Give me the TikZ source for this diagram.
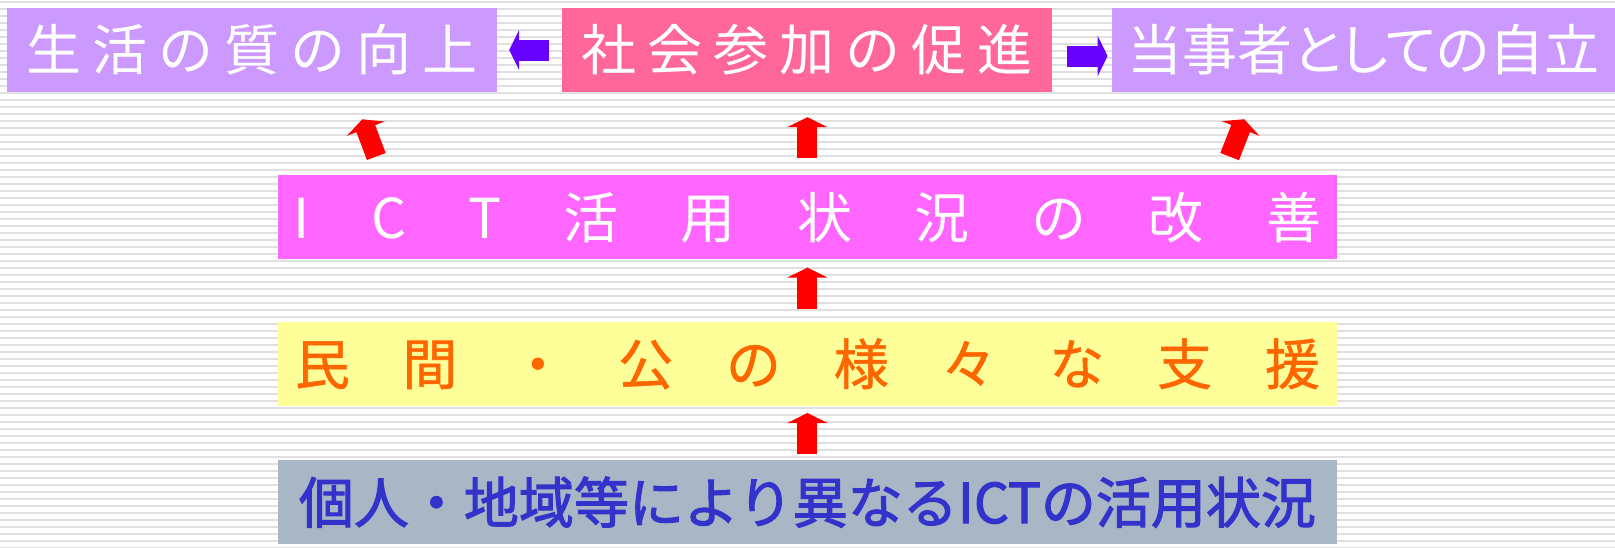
\documentclass[tikz,border=0pt]{standalone}
\usepackage{fontspec}
\newfontfamily\jpfont{Noto Sans CJK JP}
\usetikzlibrary{positioning, arrows.meta}

\definecolor{lavender}{HTML}{CC99FF}
\definecolor{rosepink}{HTML}{FF6699}
\definecolor{magentabox}{HTML}{FF66FF}
\definecolor{paleyellow}{HTML}{FFFF99}
\definecolor{textorange}{HTML}{FF6600}
\definecolor{slatebox}{HTML}{A8B6C6}
\definecolor{textblue}{HTML}{3333CC}
\definecolor{linkpurple}{HTML}{6600FF}
\definecolor{stripegray}{HTML}{E0E0E0}

\begin{document}
\begin{tikzpicture}[x=1pt, y=-1pt,
        goal/.style={rectangle, minimum height=84pt, inner sep=0pt, text=white, font=\jpfont\addfontfeature{LetterSpace=20}\fontsize{55}{60}\selectfont},
        band/.style={rectangle, minimum width=1059pt, minimum height=84pt, inner sep=0pt},
        linkarrow/.style={draw=linkpurple, line width=21pt, -{Triangle[length=10pt, width=40pt]}},
        liftarrow/.style={draw=red, line width=20pt, -{Triangle[length=10pt, width=40pt]}}
    ]
        % Background
        \useasboundingbox (0,0) rectangle (1615,547);
        \fill[white] (0,0) rectangle (1615,547);
        \foreach \k in {0,...,78}
            \fill[stripegray] (0,{7*\k+0.8}) rectangle (1615,{7*\k+2.6});

        % Goals
        \node[goal, fill=lavender, minimum width=490pt] (quality) at (252,50) {生活の質の向上};
        \node[goal, fill=rosepink, minimum width=490pt, right=65pt of quality] (participation) {社会参加の促進};
        \node[goal, fill=lavender, minimum width=504pt, right=59pt of participation, font=\jpfont\addfontfeature{RawFeature=+palt}\fontsize{55}{60}\selectfont] (independence) {当事者としての自立};

        % Bands
        \node[band, fill=magentabox, text=white, below=83pt of participation, font=\jpfont\addfontfeature{LetterSpace=113}\fontsize{55}{60}\selectfont] (ict) {ICT活用状況の改善};
        \node[band, fill=paleyellow, text=textorange, below=62pt of ict, font=\jpfont\addfontfeature{LetterSpace=96, FakeBold=1}\fontsize{55}{60}\selectfont] (support) {民間・公の様々な支援};
        \node[band, fill=slatebox, text=textblue, below=54pt of support, font=\jpfont\addfontfeature{FakeBold=2}\fontsize{55}{60}\selectfont] (status) {個人・地域等により異なるICTの活用状況};

        % Arrows
        \draw[linkarrow, shorten <=13pt, shorten >=12pt] (participation.west) -- (quality.east);
        \draw[linkarrow, shorten <=14pt, shorten >=4pt] ([yshift=-6pt]participation.east) -- ([yshift=-6pt]independence.west);
        \draw[liftarrow, shorten <=20pt, shorten >=29pt] ([xshift=-424pt]ict.north) -- ([xshift=100pt]quality.south);
        \draw[liftarrow, shorten <=17pt, shorten >=25pt] (ict.north) -- (participation.south);
        \draw[liftarrow, shorten <=20pt, shorten >=29pt] ([xshift=415pt]ict.north) -- ([xshift=-109pt]independence.south);
        \draw[liftarrow, shorten <=13pt, shorten >=8pt] (support.north) -- (ict.south);
        \draw[liftarrow, shorten <=6pt, shorten >=7pt] (status.north) -- (support.south);

    \end{tikzpicture}
\end{document}
